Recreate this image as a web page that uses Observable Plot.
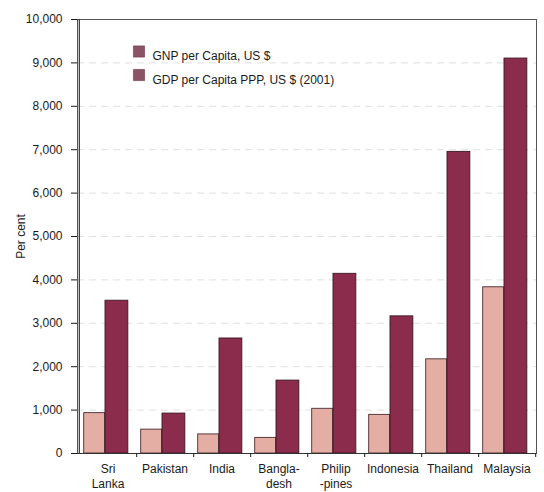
<!DOCTYPE html>
<html>
<head>
<meta charset="utf-8">
<script src="https://cdn.jsdelivr.net/npm/d3@7"></script>
<script src="https://cdn.jsdelivr.net/npm/@observablehq/plot@0.6"></script>
<style>
  html, body { margin: 0; padding: 0; background: #fff; }
  #chart svg { display: block; }
</style>
</head>
<body>
<div id="chart"></div>
<script>
const countries = ["Sri Lanka", "Pakistan", "India", "Bangladesh", "Philippines", "Indonesia", "Thailand", "Malaysia"];
const countryLabels = ["Sri\nLanka", "Pakistan", "India", "Bangla-\ndesh", "Philip\n-pines", "Indonesia", "Thailand", "Malaysia"];
const gnpPerCapita = [930, 550, 440, 360, 1030, 890, 2170, 3830];
const gdpPerCapitaPPP = [3520, 920, 2650, 1680, 4140, 3160, 6950, 9100];
const seriesNames = ["GNP per Capita, US $", "GDP per Capita PPP, US $ (2001)"];
const yTicks = [0, 1000, 2000, 3000, 4000, 5000, 6000, 7000, 8000, 9000, 10000];

const W = 544, H = 492;
const mL = 77, mR = 8, mT = 19, mB = 39;
const bw = (W - mL - mR) / countries.length;

const gnpData = countries.map((c, i) => ({country: c, value: gnpPerCapita[i]}));
const gdpData = countries.map((c, i) => ({country: c, value: gdpPerCapitaPPP[i]}));
const labelOf = new Map(countries.map((c, i) => [c, countryLabels[i]]));

const font = "'Liberation Sans', Arial, sans-serif";

function legendItem(name, i) {
  const dy = 51 - mT + i * 23.5;
  return [
    Plot.dot([name], {frameAnchor: "top-left", dx: 138.5 - mL, dy, symbol: "square", r: 6.3, fill: "#8a5466", stroke: "#6a3a4a", strokeWidth: 0.6}),
    Plot.text([name], {frameAnchor: "top-left", dx: 152 - mL, dy, text: d => d, textAnchor: "start", fontSize: 12, fill: "#1a1a1a"})
  ];
}

const chart = Plot.plot({
  width: W, height: H,
  marginLeft: mL, marginRight: mR, marginTop: mT, marginBottom: mB,
  style: {fontFamily: font, fontSize: "12px", color: "#1a1a1a", background: "#fff"},
  x: {domain: countries, padding: 0, type: "band"},
  y: {domain: [0, 10000]},
  marks: [
    Plot.gridY(yTicks.slice(1, -1), {stroke: "#bbb", strokeOpacity: 0.45, strokeDasharray: "7,5"}),
    Plot.barY(gnpData, {x: "country", y: "value", fill: "#e4aea4", stroke: "#4a2a30", strokeWidth: 0.9, insetLeft: 4.7, insetRight: bw - 26}),
    Plot.barY(gdpData, {x: "country", y: "value", fill: "#8b2c4c", stroke: "#3a1824", strokeWidth: 0.9, insetLeft: 26, insetRight: bw - 49.2}),
    Plot.frame({stroke: "#555", strokeWidth: 1}),
    Plot.ruleY([0], {stroke: "#333", strokeWidth: 1.2}),
    Plot.ruleX([countries[0]], {stroke: "#333", strokeWidth: 1.2, dx: -bw / 2}),
    Plot.axisY({ticks: yTicks, tickFormat: d3.format(","), tickSize: 6, tickPadding: 9, fontSize: 12,
      label: "Per cent", labelAnchor: "center", labelArrow: "none", labelOffset: 61}),
    Plot.axisX({tickFormat: null, tickSize: 4, dx: bw / 2, label: null}),
    Plot.axisX({tickFormat: d => labelOf.get(d), tickSize: 0, tickPadding: 9, lineHeight: 1.25, fontSize: 12, label: null}),
    ...legendItem(seriesNames[0], 0),
    ...legendItem(seriesNames[1], 1)
  ]
});
document.getElementById("chart").appendChild(chart);
</script>
</body>
</html>
